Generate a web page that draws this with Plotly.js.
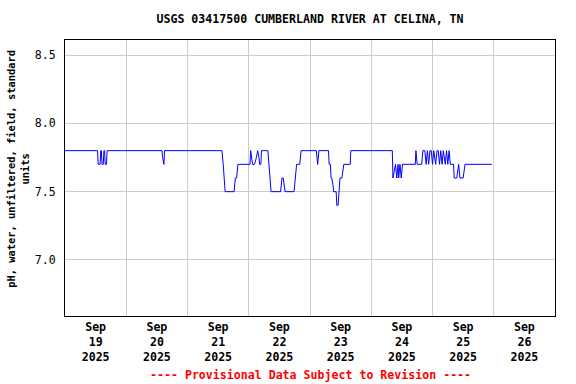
<!DOCTYPE html>
<html>
<head>
<meta charset="utf-8">
<script src="https://cdn.plot.ly/plotly-3.0.1.min.js"></script>
<style>html,body{margin:0;padding:0;background:#fff;}#chart{width:576px;height:384px;}</style>
</head>
<body>
<div id="chart"></div>
<script>
const times = [
'2025-09-19 00:00','2025-09-19 12:45','2025-09-19 13:00','2025-09-19 13:45','2025-09-19 14:00','2025-09-19 14:15',
'2025-09-19 14:30','2025-09-19 15:00','2025-09-19 15:15','2025-09-19 15:30','2025-09-19 15:45','2025-09-19 16:15',
'2025-09-19 16:30','2025-09-20 14:00','2025-09-20 14:15','2025-09-20 14:45','2025-09-20 15:00','2025-09-21 13:30',
'2025-09-21 14:00','2025-09-21 14:15','2025-09-21 14:45','2025-09-21 18:15','2025-09-21 18:45','2025-09-21 19:15',
'2025-09-21 19:45','2025-09-22 00:30','2025-09-22 00:45','2025-09-22 01:30','2025-09-22 02:15','2025-09-22 03:00',
'2025-09-22 03:30','2025-09-22 04:00','2025-09-22 04:15','2025-09-22 04:45','2025-09-22 05:00','2025-09-22 07:30',
'2025-09-22 08:00','2025-09-22 08:15','2025-09-22 08:45','2025-09-22 12:30','2025-09-22 13:00','2025-09-22 13:30',
'2025-09-22 13:45','2025-09-22 14:15','2025-09-22 17:45','2025-09-22 18:15','2025-09-22 18:45','2025-09-22 20:00',
'2025-09-22 20:30','2025-09-23 02:30','2025-09-23 02:45','2025-09-23 03:00','2025-09-23 03:30','2025-09-23 07:15',
'2025-09-23 07:30','2025-09-23 08:00','2025-09-23 08:15','2025-09-23 08:30','2025-09-23 09:00','2025-09-23 09:15',
'2025-09-23 10:15','2025-09-23 10:30','2025-09-23 11:00','2025-09-23 11:15','2025-09-23 11:45','2025-09-23 12:30',
'2025-09-23 13:00','2025-09-23 13:15','2025-09-23 15:45','2025-09-23 16:00','2025-09-24 08:15','2025-09-24 08:30',
'2025-09-24 09:30','2025-09-24 10:00','2025-09-24 10:30','2025-09-24 10:45','2025-09-24 11:15','2025-09-24 11:45',
'2025-09-24 12:15','2025-09-24 17:15','2025-09-24 17:30','2025-09-24 18:00','2025-09-24 19:45','2025-09-24 20:15',
'2025-09-24 21:00','2025-09-24 21:30','2025-09-24 22:00','2025-09-24 22:30','2025-09-24 23:00','2025-09-24 23:30',
'2025-09-25 00:00','2025-09-25 00:30','2025-09-25 01:15','2025-09-25 01:45','2025-09-25 02:15','2025-09-25 02:45',
'2025-09-25 03:15','2025-09-25 03:45','2025-09-25 04:15','2025-09-25 05:00','2025-09-25 05:30','2025-09-25 06:00',
'2025-09-25 06:30','2025-09-25 07:00','2025-09-25 08:15','2025-09-25 08:30','2025-09-25 09:30','2025-09-25 10:00',
'2025-09-25 10:15','2025-09-25 10:45','2025-09-25 12:00','2025-09-25 12:45','2025-09-25 23:15'
];
const phValues = [
7.8,7.8,7.7,7.7,7.8,7.8,
7.7,7.7,7.8,7.8,7.7,7.7,
7.8,7.8,7.75,7.7,7.8,7.8,
7.7,7.6,7.5,7.5,7.6,7.6,
7.7,7.7,7.8,7.7,7.7,7.75,
7.8,7.75,7.7,7.7,7.8,7.8,
7.7,7.6,7.5,7.5,7.6,7.6,
7.55,7.5,7.5,7.6,7.7,7.7,
7.8,7.8,7.75,7.7,7.8,7.8,
7.7,7.7,7.6,7.6,7.55,7.5,
7.5,7.4,7.4,7.5,7.6,7.6,
7.65,7.7,7.7,7.8,7.8,7.6,
7.7,7.6,7.7,7.6,7.7,7.6,
7.7,7.7,7.8,7.7,7.7,7.8,
7.8,7.7,7.8,7.7,7.8,7.8,
7.7,7.8,7.7,7.8,7.8,7.7,
7.8,7.7,7.8,7.7,7.8,7.7,
7.8,7.7,7.7,7.6,7.6,7.7,
7.7,7.6,7.6,7.7,7.7
];
const tickDates = ['2025-09-19 12:00','2025-09-20 12:00','2025-09-21 12:00','2025-09-22 12:00',
                   '2025-09-23 12:00','2025-09-24 12:00','2025-09-25 12:00','2025-09-26 12:00'];
const tickMonths = ['Sep','Sep','Sep','Sep','Sep','Sep','Sep','Sep'];
const tickDays = ['19','20','21','22','23','24','25','26'];
const tickYears = ['2025','2025','2025','2025','2025','2025','2025','2025'];
const yTicks = [7.0, 7.5, 8.0, 8.5];
const yTickText = ['7.0','7.5','8.0','8.5'];

const FONT = '"DejaVu Sans Mono", "Liberation Mono", monospace';
const tickText = tickDates.map((d,i) => '<b>' + tickMonths[i] + '<br>' + tickDays[i] + '<br>' + tickYears[i] + '</b>');

const trace = {
  x: times, y: phValues, type: 'scatter', mode: 'lines',
  line: {color: '#0000FF', width: 1}, hoverinfo: 'skip'
};

const layout = {
  width: 576, height: 384,
  margin: {l: 65, r: 21, t: 40, b: 68},
  paper_bgcolor: '#ffffff', plot_bgcolor: '#ffffff',
  showlegend: false,
  title: {text: '<b>USGS 03417500 CUMBERLAND RIVER AT CELINA, TN</b>',
          font: {family: FONT, size: 11.6, color: '#000'},
          x: 0.5, xanchor: 'center', xref: 'paper', y: 0.95, yanchor: 'middle', yref: 'container'},
  xaxis: {
    type: 'date', range: ['2025-09-19 00:00', '2025-09-27 00:00'],
    tickmode: 'array', tickvals: tickDates, ticktext: tickText,
    showgrid: false, ticks: '', zeroline: false,
    showline: true, linecolor: '#000', linewidth: 1, mirror: true,
    tickfont: {family: FONT, size: 11.6, color: '#000'},
    minor: {dtick: 86400000, tick0: '2025-09-19 00:00', showgrid: true, gridcolor: '#cccccc', gridwidth: 1, ticks: ''}
  },
  yaxis: {
    range: [6.59, 8.61], tickmode: 'array', tickvals: yTicks, ticktext: yTickText,
    showgrid: true, gridcolor: '#cccccc', gridwidth: 1, zeroline: false,
    ticks: 'outside', ticklen: 6, tickcolor: 'rgba(0,0,0,0)',
    showline: true, linecolor: '#000', linewidth: 1, mirror: true,
    tickfont: {family: FONT, size: 11.6, color: '#000'}
  },
  annotations: [
    {text: '<b>pH, water, unfiltered, field, standard<br>units</b>', textangle: -90,
     xref: 'paper', yref: 'paper', x: -0.095, y: 0.535, xanchor: 'center', yanchor: 'middle',
     showarrow: false, font: {family: FONT, size: 10.4, color: '#000'}},
    {text: '<b>---- Provisional Data Subject to Revision ----</b>',
     xref: 'paper', yref: 'paper', x: 0.5, y: -0.214, xanchor: 'center', yanchor: 'middle',
     showarrow: false, font: {family: FONT, size: 11.6, color: '#ff0000'}}
  ]
};

Plotly.newPlot('chart', [trace], layout, {staticPlot: true, displayModeBar: false});
</script>
</body>
</html>
